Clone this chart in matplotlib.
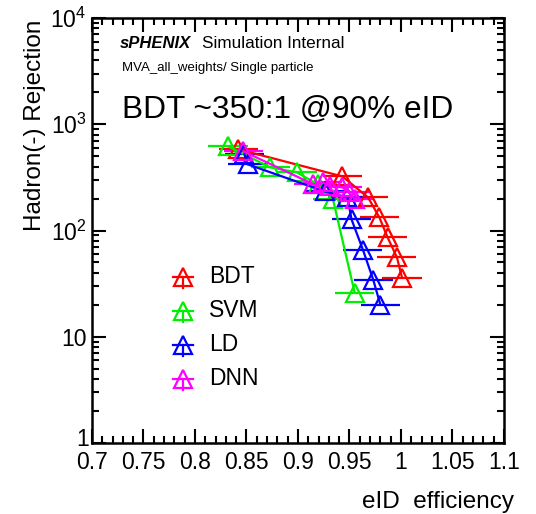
#!/usr/bin/env python

"""eID efficiency vs hadron rejection for the MVA classifiers"""

import matplotlib
matplotlib.use("Agg")
import matplotlib.pyplot as plt
import matplotlib.transforms as mtransforms
from matplotlib.ticker import FixedLocator, FixedFormatter, MultipleLocator, LogLocator, NullFormatter

plt.rcParams["font.family"] = ["Liberation Sans", "DejaVu Sans"]

# efficiency / rejection points per classifier
bdt_eff = [0.842, 0.943, 0.968, 0.979, 0.987, 0.996, 1.001]
bdt_rej = [581, 323, 205, 133, 86, 56, 36]

svm_eff = [0.832, 0.873, 0.899, 0.919, 0.934, 0.955]
svm_rej = [620, 393, 352, 272, 196, 26]

ld_eff = [0.848, 0.851, 0.926, 0.948, 0.952, 0.963, 0.973, 0.980]
ld_rej = [521, 420, 233, 205, 127, 66, 34.5, 20]

dnn_eff = [0.847, 0.915, 0.924, 0.931, 0.943, 0.950, 0.955]
dnn_rej = [556, 272, 284, 260, 255, 228, 196]

err_eff = 0.019

series = [
    ("BDT", bdt_eff, bdt_rej, "#ff0000"),
    ("SVM", svm_eff, svm_rej, "#00ee00"),
    ("LD", ld_eff, ld_rej, "#0000ff"),
    ("DNN", dnn_eff, dnn_rej, "#ff00ff"),
]

fig = plt.figure(figsize=(5.36, 5.14), dpi=100)
ax = fig.add_axes([92 / 536, 1 - 443 / 514, 412 / 536, 425 / 514])

marker_style = dict(marker="^", markersize=12.5, markerfacecolor="none",
                    markeredgewidth=1.6)

for name, eff, rej, col in series:
    ax.errorbar(eff, rej, xerr=err_eff, color=col, linewidth=1.6,
                elinewidth=1.6, capsize=0, markeredgecolor=col, **marker_style)

ax.set_xlim(0.7, 1.1)
ax.set_yscale("log")
ax.set_ylim(1, 1e4)

# ROOT-like ticks on all four sides
xt = [0.7, 0.75, 0.8, 0.85, 0.9, 0.95, 1.0, 1.05, 1.1]
ax.set_xticks(xt)
ax.set_xticklabels(["0.7", "0.75", "0.8", "0.85", "0.9", "0.95", "1", "1.05", "1.1"])
ax.xaxis.set_minor_locator(MultipleLocator(0.01))

ax.yaxis.set_major_locator(FixedLocator([1, 10, 100, 1000, 10000]))
ax.yaxis.set_major_formatter(FixedFormatter(
    ["1", "10", r"$\mathregular{10^{2}}$", r"$\mathregular{10^{3}}$", r"$\mathregular{10^{4}}$"]))
ax.yaxis.set_minor_locator(LogLocator(base=10, subs=range(2, 10)))
ax.yaxis.set_minor_formatter(NullFormatter())

ax.tick_params(which="both", direction="in", top=True, right=True, width=1.5,
               labelsize=16.5)
ax.tick_params(axis="x", pad=6)
ax.tick_params(axis="y", pad=4)
ax.tick_params(which="major", length=10)
ax.tick_params(which="minor", length=5)
for sp in ax.spines.values():
    sp.set_linewidth(1.8)

# lift the "1" label a little so it clears the 0.7 below it
one_lbl = ax.yaxis.get_major_ticks()[0].label1
one_lbl.set_transform(one_lbl.get_transform()
                      + mtransforms.ScaledTranslation(2 / 72, 4 / 72, fig.dpi_scale_trans))

# axis titles, ROOT style at the far ends
fig.text(514 / 536, 1 - 502 / 514, "eID  efficiency", ha="right", va="center", fontsize=17.5)
fig.text(35 / 536, 1 - 20 / 514, "Hadron(-) Rejection", ha="center", va="top",
         rotation=90, fontsize=17.5)

# labels
fig.text(120 / 536, 1 - 43 / 514, "sPHENIX", fontsize=12, fontweight="bold",
         fontstyle="italic", va="center")
fig.text(202 / 536, 1 - 43 / 514, "Simulation Internal", fontsize=12.3, va="center")
fig.text(122 / 536, 1 - 68 / 514, "MVA_all_weights/ Single particle", fontsize=9.5, va="center")
fig.text(122 / 536, 1 - 110 / 514, "BDT ~350:1 @90% eID", fontsize=22.8, va="center")

# legend
leg_y = [0.391, 0.311, 0.231, 0.151]
for (name, eff, rej, col), ly in zip(series, leg_y):
    ax.plot([0.221], [ly], transform=ax.transAxes, color=col,
            markeredgecolor=col, linestyle="none", **marker_style)
    ax.plot([0.196, 0.246], [ly, ly], transform=ax.transAxes, color=col, linewidth=1.6)
    ax.plot([0.221, 0.221], [ly - 0.027, ly], transform=ax.transAxes, color=col, linewidth=1.6)
    ax.text(0.284, ly, name, transform=ax.transAxes, fontsize=16.5, va="center")

fig.savefig("out.png", dpi=100)
